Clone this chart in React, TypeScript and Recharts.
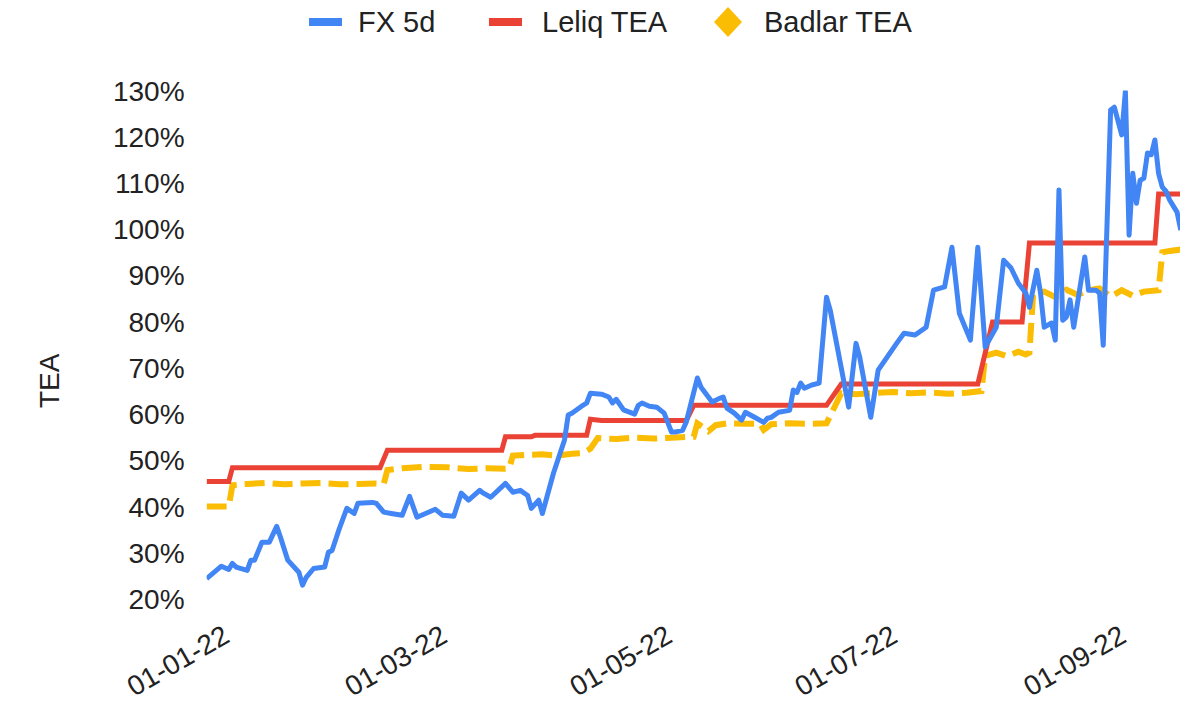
import React from 'react';
import { LineChart, Line, XAxis, YAxis, Legend } from 'recharts';

// days counted from 1 Jan 2022 (day 0)
const fxDays = [
  -1, 3, 5, 6, 7, 10, 11, 12, 14, 16, 18, 19, 21, 24, 25, 26, 28, 31, 32, 33, 35, 37, 39, 40, 44, 45, 47, 49, 52, 54,
  56, 61, 63, 66, 68, 70, 73, 74, 76, 80, 82, 84, 86, 87, 89, 90, 93, 96, 97, 98, 101, 102, 103, 106, 108, 109, 110,
  112, 115, 116, 117, 119, 121, 123, 125, 126, 128, 129, 132, 133, 136, 138, 139, 140, 142, 144, 145, 148, 150, 151,
  152, 154, 157, 158, 159, 160, 161, 163, 165, 167, 168, 172, 173, 175, 176, 179, 181, 186, 188, 191, 194, 196, 199,
  201, 203, 206, 208, 210, 213, 215, 217, 219, 221, 222, 224, 225, 226, 228, 229, 230, 231, 232, 233, 234, 237, 238,
  240, 241, 242, 244, 245, 247, 248, 249, 250, 251, 252, 253, 254, 255, 256, 257, 258, 259, 260, 261, 262, 263,
];
const fxValues = [
  24.4, 27.1, 26.4, 27.7, 26.9, 26.2, 28.4, 28.4, 32.3, 32.3, 35.7, 33.4, 28.4, 25.8, 23.0, 24.7, 26.6, 26.9, 30.1,
  30.5, 35.3, 39.6, 38.5, 40.7, 40.9, 40.7, 38.8, 38.5, 38.1, 42.2, 37.7, 39.4, 38.1, 37.9, 42.9, 41.4, 43.5, 42.9,
  42.0, 45.0, 43.1, 43.5, 42.4, 39.6, 41.4, 38.5, 47.2, 54.4, 59.8, 60.2, 61.9, 62.4, 64.5, 64.3, 63.7, 62.4, 63.2,
  60.9, 60.0, 61.9, 62.4, 61.7, 61.5, 60.2, 56.1, 56.1, 56.5, 58.3, 67.8, 65.8, 62.6, 63.4, 63.7, 61.3, 60.2, 58.7,
  60.4, 59.1, 58.2, 59.1, 59.3, 60.4, 60.8, 65.2, 64.7, 66.7, 65.6, 66.3, 66.7, 85.3, 82.5, 65.8, 61.5, 75.3, 72.3,
  59.3, 69.5, 75.3, 77.5, 77.1, 78.8, 86.8, 87.5, 96.1, 81.8, 76.0, 96.1, 74.5, 78.8, 93.3, 91.6, 88.3, 86.2, 83.1,
  91.1, 86.2, 78.8, 79.7, 76.0, 108.5, 80.3, 81.0, 84.7, 78.8, 94.0, 86.8, 86.8, 86.2, 74.9, 125.8, 126.4, 120.4,
  129.8, 98.7, 112.1, 105.6, 110.6, 111.0, 116.5, 116.1, 119.3, 112.0, 109.1, 108.2, 106.3, 105.0, 103.7, 99.8,
];

const leliqDays = [-1, 5, 6, 46, 48, 79, 80, 87, 88, 102, 103, 106, 129, 131, 167, 171, 208, 212, 220, 222, 256, 257, 263];
const leliqValues = [
  45.4, 45.4, 48.4, 48.4, 52.2, 52.2, 55.1, 55.1, 55.4, 55.4, 58.9, 58.6, 58.6, 61.9, 61.9, 66.5, 66.5, 79.9, 79.9,
  97.0, 97.0, 107.6, 107.6,
];

const badlarDays = [
  -1, 5, 6, 10, 15, 20, 25, 30, 35, 40, 45, 47, 48, 52, 58, 64, 70, 75, 80, 81, 82, 86, 90, 94, 98, 101, 103, 105, 110,
  115, 120, 125, 131, 132, 135, 137, 140, 145, 149, 150, 152, 157, 162, 167, 171, 175, 180, 185, 190, 195, 200, 205,
  209, 210, 213, 216, 219, 221, 222, 223, 226, 229, 232, 235, 238, 241, 244, 247, 250, 253, 257, 258, 260, 263,
];
const badlarValues = [
  40.0, 40.0, 44.6, 44.9, 45.1, 44.8, 45.0, 45.1, 44.8, 44.9, 45.0, 44.9, 47.9, 48.3, 48.6, 48.5, 48.1, 48.3, 48.2,
  48.3, 51.0, 51.2, 51.3, 51.0, 51.4, 51.6, 52.5, 54.8, 54.6, 54.9, 54.7, 54.9, 55.1, 58.0, 56.3, 57.6, 58.0, 57.9,
  57.9, 56.6, 57.8, 58.0, 57.9, 58.0, 64.5, 64.3, 64.6, 64.8, 64.5, 64.7, 64.4, 64.6, 65.0, 72.6, 73.3, 72.5, 73.5,
  72.9, 73.3, 86.0, 86.5, 85.3, 86.9, 85.8, 86.8, 87.2, 85.4, 86.8, 85.6, 86.5, 86.8, 95.0, 95.3, 95.6,
];

const xTickDays = [0, 59, 120, 181, 243];
const xTickLabels = ['01-01-22', '01-03-22', '01-05-22', '01-07-22', '01-09-22'];
const yTicks = [20, 30, 40, 50, 60, 70, 80, 90, 100, 110, 120, 130];

const seriesNames = ['FX 5d', 'Leliq TEA', 'Badlar TEA'];
const seriesColors = ['#4285f4', '#ea4335', '#fbbc04'];

const fxData = fxDays.map((d, i) => ({ day: d, value: fxValues[i] }));
const leliqData = leliqDays.map((d, i) => ({ day: d, value: leliqValues[i] }));
const badlarData = badlarDays.map((d, i) => ({ day: d, value: badlarValues[i] }));

const FONT = "Arial, 'Liberation Sans', Helvetica, sans-serif";
const TEXT = '#222222';

function XTick(props: any) {
  const { x, y, payload } = props;
  const i = xTickDays.indexOf(payload.value);
  const label = i >= 0 ? xTickLabels[i] : '';
  const ax = x + 21;
  const ay = y + 42;
  return (
    <text x={ax} y={ay} textAnchor="end" transform={`rotate(-30 ${ax} ${ay})`} fontSize={28} fill={TEXT} fontFamily={FONT}>
      {label}
    </text>
  );
}

function YTick(props: any) {
  const { x, y, payload } = props;
  return (
    <text x={x} y={y} dy="0.36em" textAnchor="end" fontSize={28} fill={TEXT} fontFamily={FONT}>
      {`${payload.value}%`}
    </text>
  );
}

function AxisTitle(props: any) {
  const vb = props.viewBox || { x: 0, y: 90.5, width: 206.6, height: 508.5 };
  const cx = vb.x + 48.5;
  const cy = vb.y + vb.height / 2 + 36;
  return (
    <text x={cx} y={cy} dy="0.36em" textAnchor="middle" transform={`rotate(-90 ${cx} ${cy})`} fontSize={28} fill={TEXT} fontFamily={FONT}>
      TEA
    </text>
  );
}

function LegendContent() {
  const cy = 22;
  return (
    <svg width={1180} height={50} style={{ display: 'block' }}>
      <rect x={309} y={cy - 4} width={33} height={8} fill={seriesColors[0]} />
      <text x={358} y={cy} dy="0.36em" fontSize={29} fill={TEXT} fontFamily={FONT}>{seriesNames[0]}</text>
      <rect x={489} y={cy - 4} width={33} height={8} fill={seriesColors[1]} />
      <text x={542} y={cy} dy="0.36em" fontSize={29} fill={TEXT} fontFamily={FONT}>{seriesNames[1]}</text>
      <path d={`M728 ${cy - 15} L742 ${cy} L728 ${cy + 15} L714 ${cy} Z`} fill={seriesColors[2]} />
      <text x={764} y={cy} dy="0.36em" fontSize={29} fill={TEXT} fontFamily={FONT}>{seriesNames[2]}</text>
    </svg>
  );
}

export default function App() {
  return (
    <div style={{ position: 'absolute', left: 0, top: 0, width: 1180, height: 705, overflow: 'hidden', background: '#fff' }}>
      <LineChart width={1180} height={705} margin={{ top: 90.5, right: 0, bottom: 0, left: 0 }}>
        <XAxis
          dataKey="day"
          type="number"
          domain={[-1, 262.8]}
          allowDataOverflow
          ticks={xTickDays}
          tick={<XTick />}
          axisLine={false}
          tickLine={false}
          tickSize={0}
          tickMargin={0}
          height={106}
          interval={0}
        />
        <YAxis
          type="number"
          domain={[20, 130]}
          allowDataOverflow
          ticks={yTicks}
          tick={<YTick />}
          axisLine={false}
          tickLine={false}
          tickSize={0}
          tickMargin={22}
          width={206.6}
          interval={0}
          label={<AxisTitle />}
        />
        <Legend
          layout="horizontal"
          verticalAlign="middle"
          align="center"
          wrapperStyle={{ position: 'absolute', top: 0, left: 0, width: 1180, height: 50 }}
          content={<LegendContent />}
        />
        <Line
          data={badlarData}
          dataKey="value"
          name={seriesNames[2]}
          type="linear"
          stroke={seriesColors[2]}
          strokeWidth={6}
          strokeDasharray="20 8"
          dot={false}
          activeDot={false}
          isAnimationActive={false}
        />
        <Line
          data={leliqData}
          dataKey="value"
          name={seriesNames[1]}
          type="linear"
          stroke={seriesColors[1]}
          strokeWidth={5}
          dot={false}
          activeDot={false}
          isAnimationActive={false}
        />
        <Line
          data={fxData}
          dataKey="value"
          name={seriesNames[0]}
          type="linear"
          stroke={seriesColors[0]}
          strokeWidth={5}
          strokeLinejoin="round"
          dot={false}
          activeDot={false}
          isAnimationActive={false}
        />
      </LineChart>
    </div>
  );
}
